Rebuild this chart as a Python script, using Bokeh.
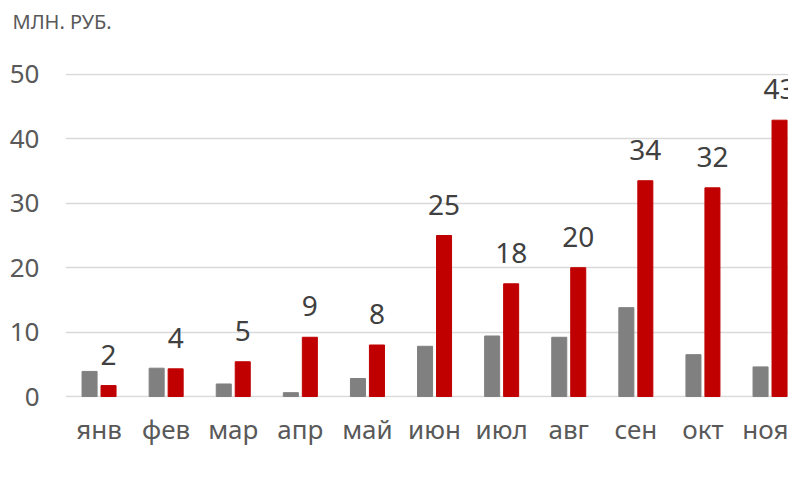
from bokeh.plotting import figure
from bokeh.models import ColumnDataSource, Range1d, FixedTicker, Legend, LegendItem
from bokeh.transform import dodge
from bokeh.core.properties import value
from bokeh.embed import file_html
from bokeh.resources import INLINE

months = ["янв", "фев", "мар", "апр", "май", "июн", "июл", "авг", "сен", "окт", "ноя"]
v2016 = [3.9, 4.4, 1.95, 0.6, 2.8, 7.8, 9.4, 9.2, 13.8, 6.5, 4.6]
v2017 = [1.7, 4.3, 5.4, 9.2, 8.0, 25.0, 17.5, 20.0, 33.5, 32.4, 42.9]
labels2017 = ["2", "4", "5", "9", "8", "25", "18", "20", "34", "32", "43"]
y_ticks = [0, 10, 20, 30, 40, 50]

FONT = "Noto Sans"
TXT = "#595959"
GRAY = "#808080"
RED = "#C00000"

idx = list(range(len(months)))
src = ColumnDataSource(dict(x=idx, v2016=v2016, v2017=v2017, lab=labels2017))

p = figure(frame_width=723, frame_height=324, x_range=Range1d(-0.5, 10.275), y_range=Range1d(-0.15, 50.15),
           output_backend="svg", toolbar_location=None,
           min_border_left=65, min_border_right=0, min_border_top=72, min_border_bottom=0)
p.outline_line_color = None

p.title.text = "МЛН. РУБ.\n\u00a0"
p.title.align = "left"
p.title.offset = -53
p.title.vertical_align = "bottom"
p.title.text_font = FONT
p.title.text_font_size = "20px"
p.title.text_line_height = 1.2
p.title.text_font_style = "normal"
p.title.text_color = TXT
p.title.standoff = 12

off = 0.1415
bw = 0.224
r1 = p.vbar(x=dodge("x", -off, range=p.x_range), top="v2016", width=bw, bottom=0, source=src,
            fill_color=GRAY, line_color=GRAY)
r2 = p.vbar(x=dodge("x", off, range=p.x_range), top="v2017", width=bw, bottom=0, source=src,
            fill_color=RED, line_color=RED)
p.text(x=dodge("x", off, range=p.x_range), y="v2017", text="lab", source=src,
       text_align="center", text_baseline="alphabetic", y_offset=-31,
       text_font=value(FONT), text_font_size="28px", text_color="#404040")

p.xaxis.ticker = FixedTicker(ticks=idx)
p.xaxis.major_label_overrides = {i: m for i, m in enumerate(months)}
p.yaxis.ticker = FixedTicker(ticks=y_ticks)
for ax in (p.xaxis[0], p.yaxis[0]):
    ax.axis_line_color = None
    ax.major_tick_line_color = None
    ax.minor_tick_line_color = None
    ax.major_label_text_font = FONT
    ax.major_label_text_font_size = "26px"
    ax.major_label_text_color = TXT
p.yaxis.major_label_standoff = 20
p.xaxis.major_label_standoff = 7

p.xgrid.grid_line_color = None
p.ygrid.ticker = FixedTicker(ticks=y_ticks)
p.ygrid.grid_line_color = "#d9d9d9"
p.ygrid.grid_line_width = 1.5

legend = Legend(items=[LegendItem(label="2016", renderers=[r1]), LegendItem(label="2017", renderers=[r2])],
                orientation="horizontal", location="center",
                glyph_width=15, glyph_height=14, label_standoff=6, spacing=3, label_width=78,
                label_text_font=FONT, label_text_font_size="27px", label_text_color=TXT,
                border_line_color=None, background_fill_alpha=0, padding=0, margin=0)
p.add_layout(legend, "below")

open("out.html", "w").write(file_html(p, INLINE))
